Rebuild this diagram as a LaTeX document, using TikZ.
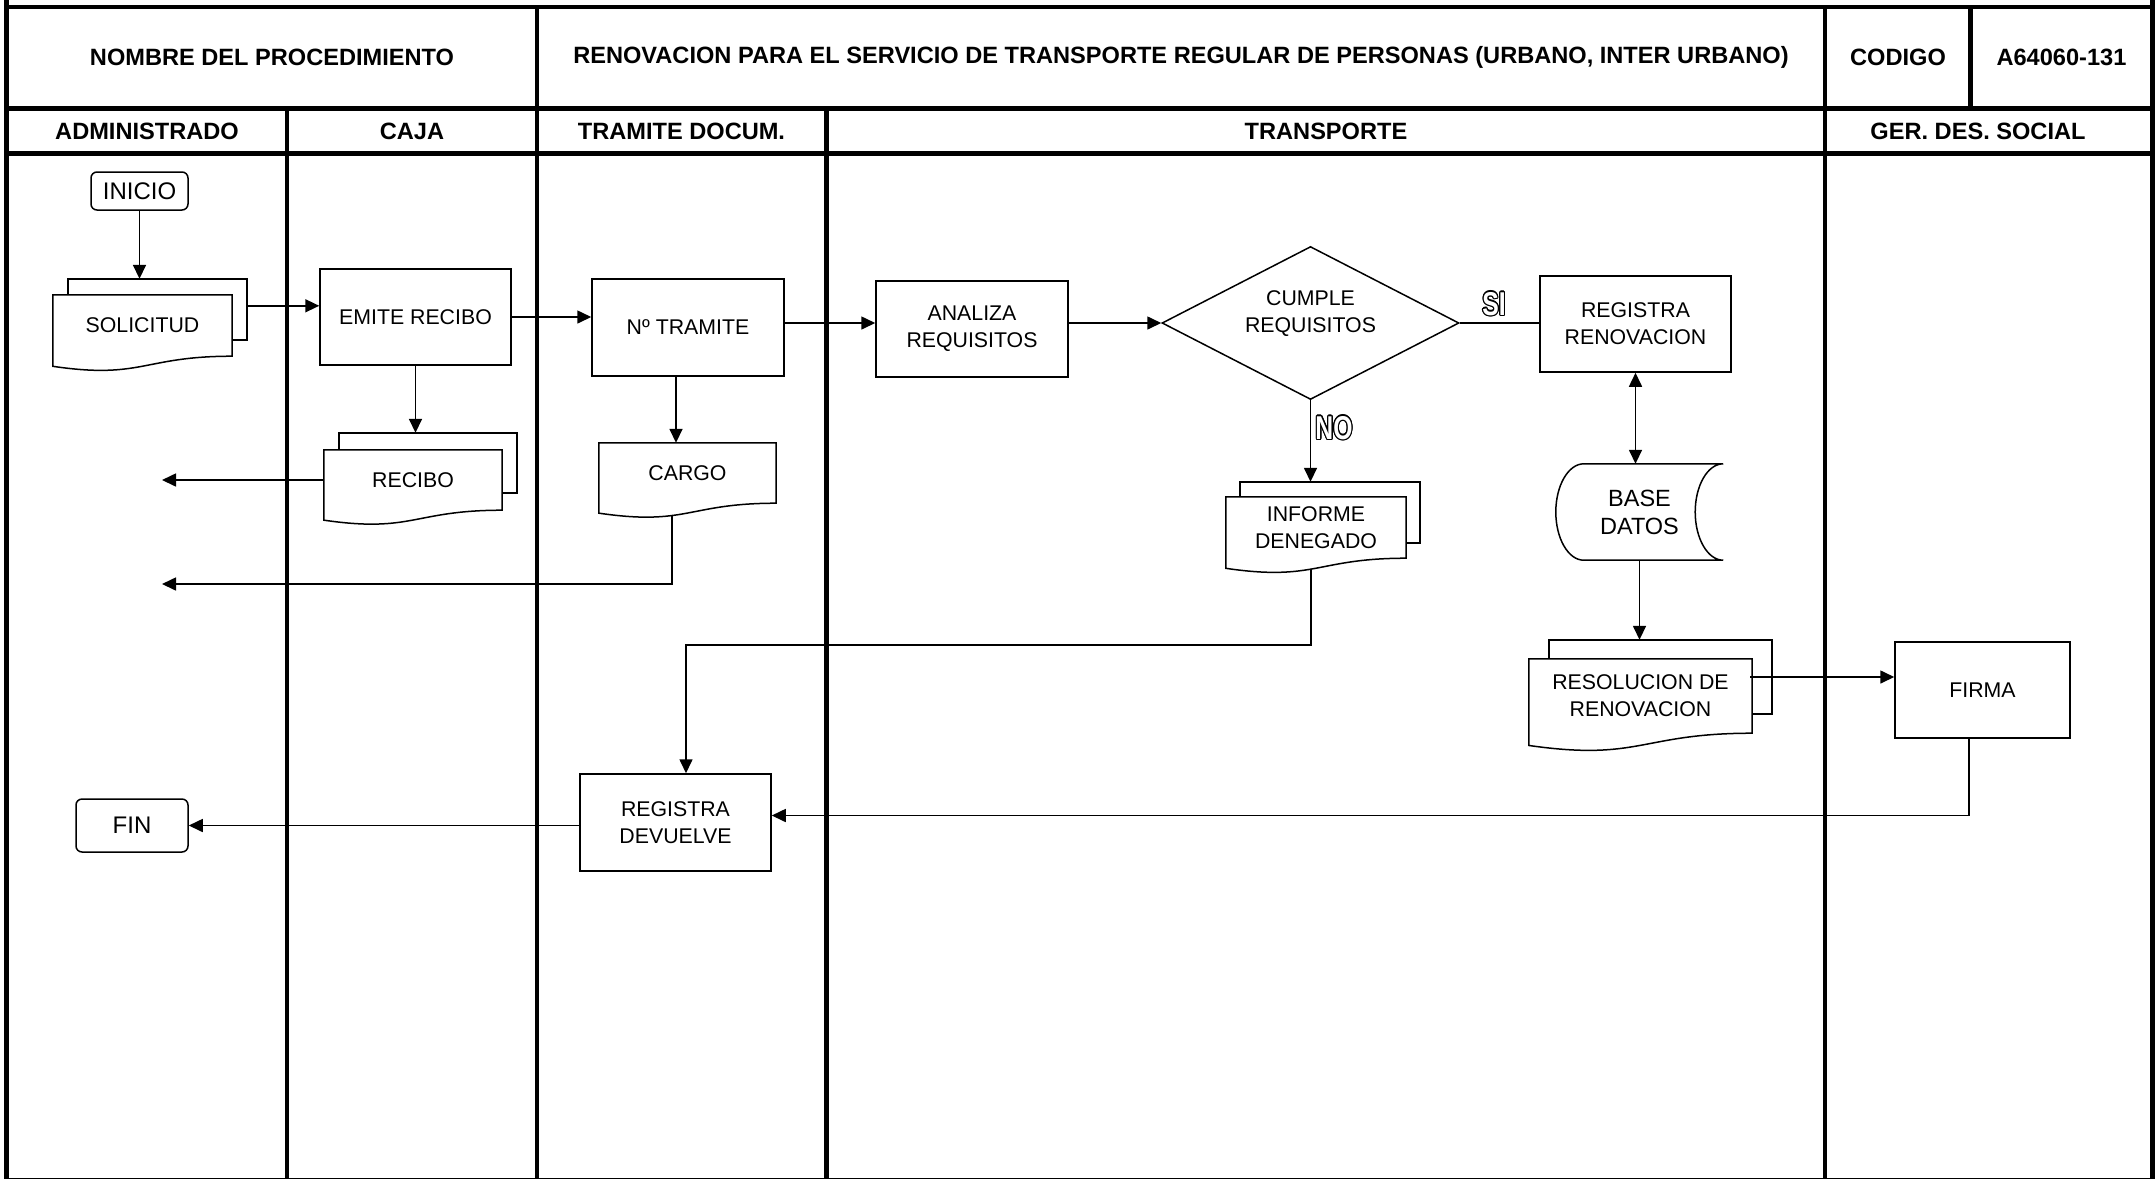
\documentclass[tikz,border=0pt]{standalone}
\usepackage{fontspec}
\setmainfont{Liberation Sans}
\usepackage{graphicx}
\usetikzlibrary{arrows.meta,calc,shapes.geometric}

\newcommand\ndfont{\fontsize{21.3}{27}\selectfont}
\newcommand\tmfont{\fontsize{24}{28}\selectfont}
\newcommand\bdfont{\fontsize{23.5}{28}\selectfont}
\newcommand\hdfont{\fontsize{23.6}{28}\selectfont\bfseries}
\newcommand\olfont{\fontsize{33}{36}\selectfont\bfseries}

\newcommand\hollowtxt[1]{%
  \scalebox{0.75}[1]{%
  \rlap{\kern1.5pt#1}%
  \rlap{\kern-1.5pt#1}%
  \rlap{\raisebox{1.5pt}{#1}}%
  \rlap{\raisebox{-1.5pt}{#1}}%
  \rlap{\kern1.1pt\raisebox{1.1pt}{#1}}%
  \rlap{\kern-1.1pt\raisebox{1.1pt}{#1}}%
  \rlap{\kern1.1pt\raisebox{-1.1pt}{#1}}%
  \rlap{\kern-1.1pt\raisebox{-1.1pt}{#1}}%
  \rlap{\kern1.4pt\raisebox{0.6pt}{#1}}%
  \rlap{\kern-1.4pt\raisebox{0.6pt}{#1}}%
  \rlap{\kern1.4pt\raisebox{-0.6pt}{#1}}%
  \rlap{\kern-1.4pt\raisebox{-0.6pt}{#1}}%
  \textcolor{white}{#1}}}

\tikzset{
  flowtip/.tip={Triangle[length=14pt,width=13pt]},
  gridline/.style={line width=4.7pt},
  box/.style={draw, line width=1.5pt, rectangle, inner sep=0pt, align=center, font=\ndfont},
  term/.style={box, rounded corners=6pt, font=\tmfont},
  docarea/.style={rectangle, inner sep=0pt, align=center, font=\ndfont},
  shapeline/.style={line width=1.5pt, line join=miter},
  arr/.style={line width=1.6pt, -flowtip},
  dblarr/.style={line width=1.6pt, flowtip-flowtip},
  plainline/.style={line width=1.6pt},
  hdr/.style={font=\hdfont, inner sep=0pt, anchor=center},
  lbl/.style={font=\olfont, inner sep=0pt},
}

% front page of a document shape, from the node covering its text area
\newcommand\docfront[1]{%
  \draw[shapeline] (#1.north west) -- (#1.north east) -- (#1.south east)
    .. controls (#1.south) and ($(#1.north)!1.38!(#1.south)$) ..
    ($(#1.north west)!1.1646!(#1.south west)$) -- cycle;}
% back page of a multi-document shape
\newcommand\docback[3]{%
  \draw[shapeline] ($(#1.north west)+(#2,0)$) -- ++(0,-#3)
    -- ($(#1.north east)+(#2,-#3)$) -- ($(#1.south east)+(#2,-#3)$)
    -- ($(#1.south east)+(0,-#3)$);}

\begin{document}
\begin{tikzpicture}[x=1pt,y=-1pt]
\useasboundingbox (0,0) rectangle (2156,1179);

% ---------- table grid ----------
\draw[gridline] (6.5,0) -- (6.5,1179);
\draw[gridline] (2152.5,0) -- (2152.5,1179);
\draw[gridline] (6.5,7) -- (2152.5,7);
\draw[gridline] (6.5,108.3) -- (2152.5,108.3);
\draw[gridline] (6.5,153.3) -- (2152.5,153.3);
\draw[gridline] (287,108.3) -- (287,1179);
\draw[gridline] (537,7) -- (537,1179);
\draw[gridline] (826.5,108.3) -- (826.5,1179);
\draw[gridline] (1825,7) -- (1825,1179);
\draw[gridline] (1970.5,7) -- (1970.5,108.3);
\draw[line width=1.5pt] (6.5,1178.3) -- (2152.5,1178.3);

% ---------- headers ----------
\node[hdr] (hname) at (272,57.5) {NOMBRE DEL PROCEDIMIENTO};
\node[hdr] (htitle) at (1181,57.5) {RENOVACION PARA EL SERVICIO DE TRANSPORTE REGULAR DE PERSONAS (URBANO, INTER URBANO)};
\node[hdr] (hcod) at (1898,57.5) {CODIGO};
\node[hdr] (hnum) at (2061.5,57.5) {A64060-131};
\node[hdr] (ladm) at (147,131) {ADMINISTRADO};
\node[hdr] (lcaja) at (412,131) {CAJA};
\node[hdr] (ltram) at (681.5,131) {TRAMITE DOCUM.};
\node[hdr] (ltrans) at (1326,131) {TRANSPORTE};
\node[hdr] (lger) at (1978,131) {GER. DES. SOCIAL};

% ---------- nodes ----------
\node[term, minimum width=97pt, minimum height=38pt] (inicio) at (139.5,191) {INICIO};

\node[docarea, minimum width=179pt, minimum height=61pt] (sol) at (142.5,325.5) {SOLICITUD};
\docback{sol}{15}{16}
\docfront{sol}

\node[box, minimum width=191pt, minimum height=96pt] (emite) at (415.5,317) {EMITE RECIBO};

\node[docarea, minimum width=178pt, minimum height=60pt] (recibo) at (413,480) {RECIBO};
\docback{recibo}{15}{17}
\docfront{recibo}

\node[box, minimum width=192pt, minimum height=97pt] (tramite) at (688,327.5) {Nº TRAMITE};

\node[docarea, minimum width=177pt, minimum height=60pt] (cargo) at (687.5,473) {CARGO};
\docfront{cargo}

\node[box, minimum width=192pt, minimum height=96pt] (analiza) at (972,329) {ANALIZA\\REQUISITOS};

\node[draw, shape=diamond, line width=1.5pt, inner sep=0pt, aspect=1.94,
      minimum width=297pt, minimum height=153pt,
      label={[font=\ndfont, align=center, yshift=9pt]center:{CUMPLE\\REQUISITOS}}]
      (cumple) at (1310.5,323) {};

\node[box, minimum width=191pt, minimum height=96pt] (regren) at (1635.5,324) {REGISTRA\\RENOVACION};

\node[docarea, font=\bdfont, minimum width=167pt, minimum height=96pt] (base) at (1639.5,512) {BASE\\DATOS};
\draw[shapeline] ($(base.north west)+(28,0)$) -- (base.north east)
  .. controls ($(base.north east)+(-15.5,0)$) and ($(base.east)+(-28,-26.5)$) .. ($(base.east)+(-28,0)$)
  .. controls ($(base.east)+(-28,26.5)$) and ($(base.south east)+(-15.5,0)$) .. (base.south east)
  -- ($(base.south west)+(28,0)$)
  .. controls ($(base.south west)+(12.5,0)$) and ($(base.west)+(0,26.5)$) .. (base.west)
  .. controls ($(base.west)+(0,-26.5)$) and ($(base.north west)+(12.5,0)$) .. cycle;

\node[docarea, minimum width=180pt, minimum height=61pt] (informe) at (1316,527.5) {INFORME\\DENEGADO};
\docback{informe}{14}{15}
\docfront{informe}

\node[docarea, minimum width=223pt, minimum height=74pt] (res) at (1640.5,696) {RESOLUCION DE\\RENOVACION};
\docback{res}{20}{19}
\docfront{res}

\node[box, minimum width=175pt, minimum height=96pt] (firma) at (1982.5,690) {FIRMA};

\node[box, minimum width=191pt, minimum height=97pt] (regdev) at (675.5,822.5) {REGISTRA\\DEVUELVE};

\node[term, minimum width=112pt, minimum height=53pt, font=\tmfont] (fin) at (132,825.5) {FIN};

% ---------- labels ----------
\node[lbl] (si) at (1494,304) {\hollowtxt{SI}};
\node[lbl] (no) at (1334,428) {\hollowtxt{NO}};

% ---------- connectors ----------
\coordinate (solback) at ($(sol.north)+(15,-16)$);
\draw[arr] (inicio.south) -- (inicio.south |- solback);

\coordinate (solout) at ($(sol.north east)+(15,11)$);
\draw[arr] (solout) -- (solout -| emite.west);

\draw[arr] (emite.east) -- (emite.east -| tramite.west);

\coordinate (recback) at ($(recibo.north)+(15,-17)$);
\draw[arr] (emite.south) -- (emite.south |- recback);

\coordinate (recout) at (162,480);
\draw[arr] (recibo.west) -- (recout);

\coordinate (t1) at ($(tramite.south)+(-12,0)$);
\draw[arr] (t1) -- (t1 |- cargo.north);

\coordinate (c1) at ($(cargo.south)+(-15.5,12)$);
\coordinate (cargoout) at (162,584);
\draw[arr] (c1) |- (cargoout);

\coordinate (t2) at ($(tramite.east)+(0,-4.5)$);
\draw[arr] (t2) -- (t2 -| analiza.west);

\draw[arr] (analiza.east |- cumple.west) -- (cumple.west);

\draw[plainline] (cumple.east) -- (cumple.east -| regren.west);

\coordinate (infback) at ($(informe.north)+(14,-15)$);
\draw[arr] (cumple.south) -- (cumple.south |- infback);

\draw[dblarr] (regren.south) -- (regren.south |- base.north);

\coordinate (resback) at ($(res.north)+(20,-19)$);
\draw[arr] (base.south) -- (base.south |- resback);

\coordinate (r1) at ($(res.east)+(-2,-19)$);
\draw[arr] (r1) -- (r1 -| firma.west);

\coordinate (f1) at ($(firma.south)+(-13.5,0)$);
\coordinate (d1) at ($(regdev.east)+(0,-7)$);
\draw[arr] (f1) |- (d1);

\coordinate (i1) at ($(informe.south)+(-5,10.5)$);
\coordinate (d2) at ($(regdev.north)+(10.5,0)$);
\draw[arr] (i1) -- ++(0,76.5) -| (d2);

\draw[arr] (regdev.west |- fin.east) -- (fin.east);
\end{tikzpicture}
\end{document}
